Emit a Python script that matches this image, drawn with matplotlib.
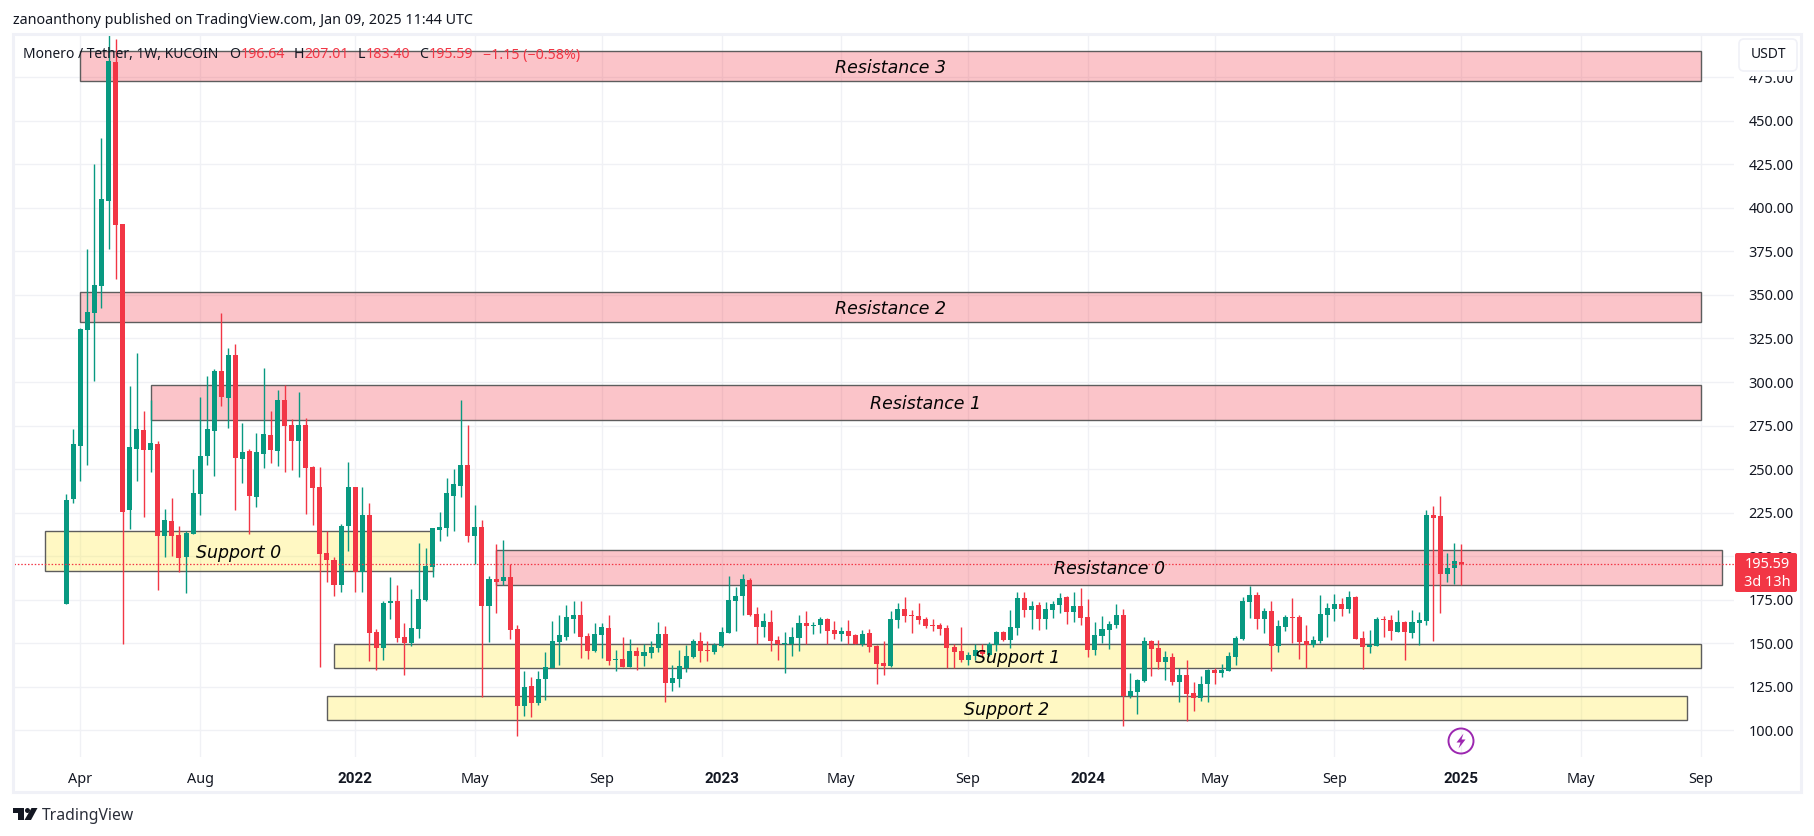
import matplotlib
matplotlib.use("Agg")
import matplotlib.pyplot as plt
import matplotlib.dates as mdates
from matplotlib.patches import Rectangle, FancyBboxPatch, Circle, Polygon, Ellipse
import pandas as pd

W, H = 1814, 836
FONT = "Noto Sans"
INK = "#131722"
UP = "#089981"
DOWN = "#F23645"
GRID = "#F0F1F5"
BORDER = "#F0F1F7"

first_week = "2021-03-22"

opens = [
    172.7, 232.6, 263, 329.9, 339.9, 355.2, 404, 483.8, 390.8, 226.3,
    261.3, 272.2, 260.8, 264.2, 211.4, 220, 212, 199.3, 212.5, 235.5,
    257.3, 271.7, 306.1, 290.6, 315.3, 255.6, 260.2, 233.8, 258.5, 269.4,
    260.2, 289.5, 275.1, 265.9, 275.1, 251, 239.5, 201.6, 197.6, 183.2,
    217.1, 239.5, 190.8, 223.9, 156.7, 147.5, 173.4, 174, 153.8, 150.4,
    158.4, 175.1, 194, 215.3, 216.4, 234.8, 240.5, 252.6, 211.3, 217,
    171.6, 187.1, 186, 188.3, 158.4, 114.2, 125.7, 115.9, 129.2, 136,
    151, 153.8, 164.2, 166.5, 154.4, 145.8, 155, 159, 140.6, 141.2,
    136.6, 145.8, 142.9, 144.2, 147.1, 155.1, 127, 129.3, 135.6, 141.9,
    151.1, 145.9, 144.8, 148.2, 155.7, 174, 176.9, 186.1, 166.6, 159.1,
    162, 151.6, 149.6, 149.4, 152.8, 161.4, 159.7, 160.3, 163.7, 157.4,
    155.1, 156.8, 154.5, 149.7, 155.7, 148.2, 138.4, 136.7, 163.1, 169.4,
    166, 165.4, 163.7, 160.3, 160.3, 158.5, 147.6, 145.3, 140.2, 142.5,
    145.9, 143, 148.8, 156.2, 151.7, 158.5, 175.8, 168.9, 171.7, 163.7,
    168.9, 171.7, 176.3, 167.7, 171.2, 164.9, 145.9, 153.9, 157.4, 160.3,
    166, 119.5, 121.8, 128.1, 151.1, 147, 139, 141.9, 127.5, 131.6,
    121.2, 118.3, 126.4, 134.4, 132.7, 134.1, 142.1, 152.5, 173.7, 177.7,
    163.9, 168.5, 148.4, 159.3, 165, 165, 151.3, 149, 151.3, 166.2,
    169.7, 172.6, 169.7, 176.6, 153, 147.9, 148.4, 163.9, 163.4, 156.5,
    162.2, 155.9, 161.6, 162.8, 223.7, 223.1, 189.8, 193.2, 196.64,
]
highs = [
    235.5, 272.8, 331, 376.4, 425.2, 440.2, 499.7, 497, 390.8, 297.5,
    316.5, 283.2, 289.7, 266, 226.9, 233.2, 217.1, 214.3, 249.9, 291.2,
    303.3, 307.3, 339.7, 319.6, 321.9, 276.3, 261.3, 270.5, 307.8, 283.2,
    295.2, 298.5, 278.6, 294.1, 279.1, 251.6, 251, 214.3, 199.3, 218.3,
    253.9, 239.5, 240, 230.8, 158.4, 174.5, 188.3, 183.7, 161.9, 181.4,
    207.8, 204.9, 215.9, 225.6, 245.1, 250.3, 289.4, 275.6, 229.6, 221,
    188.9, 207.2, 209.5, 195.6, 160.7, 134.3, 130.9, 134.3, 145.2, 162.5,
    166.5, 172.2, 174, 174.5, 156.1, 161.9, 161.9, 166.5, 146.4, 153.8,
    152.7, 148.1, 149.8, 151.1, 162, 159.7, 137.3, 145.9, 148.8, 152.2,
    156.2, 151.1, 150, 159.1, 188.4, 182.1, 189.5, 187.2, 170.6, 167.2,
    168.9, 154, 156.2, 159.1, 166, 168.3, 162, 164.9, 164.3, 162.6,
    159.1, 163.1, 155.1, 157.4, 158, 148.8, 151.1, 168.3, 172.9, 176.3,
    168.9, 172.9, 164.9, 163.7, 161.4, 160.3, 149.4, 159.1, 144.8, 149.4,
    149.4, 150.7, 156.8, 156.8, 168.9, 179.2, 179.2, 174, 173.5, 173.5,
    174, 178.6, 176.9, 179.2, 181.5, 175.2, 162, 165.4, 162.6, 172.3,
    169.4, 132.7, 129.3, 153.4, 151.6, 151.6, 145.3, 144.2, 135.6, 140.6,
    127.5, 131, 135, 135.6, 137.9, 145, 154.2, 176.6, 182.9, 179.4,
    170.3, 174.3, 163.4, 166.2, 176, 166.2, 160.5, 154.2, 177.7, 173.1,
    178.3, 176, 180, 177.2, 157, 157.6, 165, 165.7, 166.2, 169.1,
    162.8, 169.1, 168, 226.5, 228.8, 234.6, 201.8, 207.6, 207.01,
]
lows = [
    172.7, 230.3, 243, 252.1, 300.6, 342.6, 376.4, 359.2, 149.7, 215.4,
    243, 222.3, 248.1, 180.4, 199.3, 199.9, 190.7, 178.6, 212.5, 223.4,
    252.1, 245.8, 286, 273.4, 226.3, 241.8, 212.5, 228, 250.4, 253.3,
    251.6, 248.1, 249.3, 245.3, 224, 217.7, 136.5, 185, 176.9, 179.2,
    202.8, 179.3, 179.3, 140, 134.9, 140.6, 164.2, 151, 132, 148.7,
    153.3, 174, 188.3, 209, 211.3, 214.7, 233.7, 208.4, 195.4, 119,
    151, 167.6, 183.7, 152.7, 97, 108.5, 107.9, 114.8, 117.7, 136,
    137.8, 152.1, 156.1, 141.8, 141.2, 144.7, 141.8, 137.8, 134.3, 136.6,
    136.6, 134.9, 137.2, 141.3, 144.8, 116, 122.4, 124.7, 133.3, 141.3,
    139, 139.6, 143.6, 147.6, 155.7, 156.8, 166, 165.4, 149.7, 153.4,
    145.3, 140.2, 132.7, 142.5, 145.3, 149.7, 155.1, 155.7, 149.7, 152.2,
    151.1, 149.7, 149.7, 148.2, 144.8, 126.4, 131.6, 136.1, 158.5, 162,
    155.7, 160.8, 158.5, 156.8, 154.5, 136, 136, 139, 137.3, 140.2,
    142, 142.5, 145.3, 151.1, 147, 154.5, 164.9, 158, 157.4, 158,
    164.3, 167.2, 160.8, 162, 160.3, 141.9, 143, 149.9, 146.5, 158.5,
    102.3, 118.3, 109.2, 127.5, 131, 135, 128.7, 125.8, 116, 105.1,
    110.9, 116.6, 116, 126.4, 130.4, 133.9, 137.5, 151.9, 164.5, 158.2,
    155.9, 134.1, 145, 157, 150, 141, 136, 147.9, 150.2, 153.6,
    162.8, 165.7, 167.4, 152.5, 135, 144.4, 148.4, 153.6, 151.9, 156.5,
    140.4, 153, 149, 160.5, 151.3, 167.4, 185.2, 184, 183.40,
]
closes = [
    232, 264.2, 330.5, 340.3, 355.8, 405.1, 484.4, 390.2, 225.4, 262.5,
    272.8, 260.8, 264.8, 211.4, 220.6, 211.4, 198.8, 213.1, 236.1, 257.3,
    272.8, 306.1, 291.2, 315.3, 256.2, 259.6, 234.3, 259.6, 270, 260.8,
    289.5, 274.5, 265.9, 275.1, 250.4, 238.9, 201, 197.6, 183.2, 217.1,
    239.5, 190.8, 223.9, 156.1, 147.5, 173.4, 174, 153.3, 150.4, 159,
    175.7, 194.6, 215.9, 217, 236, 241.7, 252.6, 211.3, 217, 171.6,
    187.1, 185.4, 188.3, 157.9, 114.2, 125.1, 115.9, 129.7, 136.6, 151.5,
    155, 164.8, 166.5, 153.8, 145.8, 155.6, 159.6, 140, 141, 136.6,
    145.8, 142.9, 144.7, 147.6, 155.1, 127, 129.8, 136.7, 142.5, 151.1,
    145.3, 145.3, 148.8, 156.2, 174.6, 176.9, 186.7, 166, 159.1, 162.6,
    151.1, 149.4, 149.9, 153.4, 161.4, 159.7, 160.3, 163.7, 156.8, 155.1,
    156.8, 153.9, 149.7, 155.1, 147.6, 137.9, 136.7, 163.7, 169.4, 165.4,
    165.4, 163.1, 159.7, 159.7, 158, 147, 144.8, 140.2, 143, 145.9,
    143.6, 149.4, 156.2, 151.7, 159.1, 175.8, 168.9, 171.2, 163.7, 169.4,
    172.3, 175.8, 167.7, 171.2, 164.3, 145.9, 154.5, 158, 160.8, 166,
    119.9, 122.4, 128.7, 151.1, 146.5, 139, 141.9, 127.5, 131.6, 120.6,
    118.3, 126.4, 134.4, 132.7, 134.4, 142.7, 153, 174.3, 177.7, 163.9,
    168.5, 148.4, 159.9, 165, 164.5, 150.7, 149, 151.9, 166.8, 170.3,
    172.6, 169.7, 176.6, 152.5, 147.9, 149, 163.9, 163.4, 157, 162.2,
    156.5, 162.2, 163.4, 223.7, 221.9, 189.8, 193.2, 197.2, 195.59,
]

price_ticks = [100, 125, 150, 175, 200, 225, 250, 275, 300, 325, 350, 375, 400, 425, 450, 475]
time_tick_dates = ["2021-04-05", "2021-08-02", "2022-01-03", "2022-05-02", "2022-09-05", "2023-01-02",
                   "2023-05-01", "2023-09-04", "2024-01-01", "2024-05-06", "2024-09-02", "2025-01-06",
                   "2025-05-05", "2025-09-01"]
time_tick_labels = ["Apr", "Aug", "2022", "May", "Sep", "2023", "May", "Sep", "2024", "May", "Sep", "2025", "May", "Sep"]

zone_names = ["Resistance 3", "Resistance 2", "Resistance 1", "Resistance 0", "Support 0", "Support 1", "Support 2"]
zone_starts = ["2021-04-05", "2021-04-05", "2021-06-14", "2022-05-23", "2021-03-01", "2021-12-13", "2021-12-06"]
zone_ends = ["2025-09-01", "2025-09-01", "2025-09-01", "2025-09-22", "2022-03-21", "2025-09-01", "2025-08-18"]
zone_tops = [490.3, 351.5, 298.5, 203.6, 214.4, 149.6, 119.8]
zone_bottoms = [472.7, 334.3, 278.4, 183.5, 191.7, 135.8, 106.0]

last_price = 195.59

weeks = mdates.date2num(pd.date_range(first_week, periods=len(closes), freq="7D"))
d0 = weeks[0]

fig = plt.figure(figsize=(W / 100, H / 100), dpi=100, facecolor="white")
plt.rcParams["font.family"] = [FONT, "DejaVu Sans"]

# main pane: pixel box 13.5..1734 x 34..757
L, R, T, B = 13.5, 1734.0, 34.0, 757.0
ax = fig.add_axes([L / W, 1 - B / H, (R - L) / W, (B - T) / H], facecolor="white")
ax.set_xlim(d0 - 52.4, d0 + 1656.9)
ax.set_ylim(84.7, 499.8)
for s in ax.spines.values():
    s.set_visible(False)
ax.set_axisbelow(True)
ax.grid(True, color=GRID, lw=1.0)
ax.set_yticks(price_ticks)
ax.set_yticklabels([f"{p:.2f}" for p in price_ticks], fontsize=10.4, color=INK, family=FONT)
ax.tick_params(axis="y", left=False, right=False, labelleft=False, labelright=True, pad=6.8)
ax.set_xticks(mdates.date2num(pd.to_datetime(time_tick_dates)))
ax.set_xticklabels(time_tick_labels, fontsize=10.4, color=INK, family=FONT)
ax.tick_params(axis="x", bottom=False, top=False, pad=7.2)
for lab, txt in zip(ax.get_xticklabels(), time_tick_labels):
    if txt.isdigit():
        lab.set_family("Roboto")
        lab.set_fontweight("bold")
        lab.set_fontsize(11)

# zones
for name, s, e, t, b in zip(zone_names, zone_starts, zone_ends, zone_tops, zone_bottoms):
    x0 = mdates.date2num(pd.Timestamp(s))
    x1 = mdates.date2num(pd.Timestamp(e))
    fill = (242 / 255, 54 / 255, 69 / 255, 0.29) if name.startswith("Res") else (255 / 255, 235 / 255, 59 / 255, 0.3)
    ax.add_patch(Rectangle((x0, b), x1 - x0, t - b, facecolor=fill, edgecolor="#5D5D5D", lw=1.0, zorder=2))
    ax.annotate(name, xy=((x0 + x1) / 2, (t + b) / 2), xytext=(0, -1.2), textcoords="offset points",
                ha="center", va="center", fontsize=12.5, style="italic", family="DejaVu Sans",
                color="#050505", zorder=7)

# candles
colors = [UP if c >= o else DOWN for o, c in zip(opens, closes)]
ax.vlines(weeks, lows, highs, colors=colors, lw=1.0, zorder=3)
ax.bar(weeks, [abs(c - o) for o, c in zip(opens, closes)], bottom=[min(o, c) for o, c in zip(opens, closes)],
       width=5.0, color=colors, lw=0, zorder=4)

ax.axhline(last_price, color=DOWN, lw=0.9, ls=(0, (1.2, 1.5)), zorder=5)

# overlay in figure pixels
ov = fig.add_axes([0, 0, 1, 1], facecolor="none", zorder=10)
ov.set_xlim(0, W)
ov.set_ylim(H, 0)
ov.axis("off")

ov.add_patch(Rectangle((12.8, 34), 1788, 758, fill=False, edgecolor=BORDER, lw=2.2))

ov.text(13, 21, "zanoanthony published on TradingView.com, Jan 09, 2025 11:44 UTC", fontsize=10.3, color=INK, va="center", family=FONT)

leg_y = 55
ov.text(23, leg_y, "Monero / Tether, 1W, KUCOIN", fontsize=9.95, color=INK, va="center", family=FONT)
for x, s, c in [(229.5, "O", INK), (240.3, "196.64", DOWN), (293.5, "H", INK), (304, "207.01", DOWN),
                (357.8, "L", INK), (366, "183.40", DOWN), (419, "C", INK), (428.6, "195.59", DOWN),
                (483, "\u22121.15 (\u22120.58%)", DOWN)]:
    ov.text(x, leg_y, s, fontsize=10.2, color=c, va="center", family=[FONT, "DejaVu Sans"])

# USDT button, masking the top of the 475.00 label
ov.add_patch(Rectangle((1739, 60), 58, 16, facecolor="white", edgecolor="none"))
ov.add_patch(FancyBboxPatch((1741, 41), 54, 28, boxstyle="round,pad=2,rounding_size=5", facecolor="white",
                            edgecolor=BORDER, lw=1.2))
ov.text(1768, 55, "USDT", fontsize=10, color=INK, ha="center", va="center", family=FONT)

# last price label
ov.add_patch(FancyBboxPatch((1737, 555), 58, 35, boxstyle="round,pad=2,rounding_size=2", facecolor=DOWN, edgecolor="none"))
ov.text(1767, 564, "195.59", fontsize=10.4, color="white", ha="center", va="center", family=FONT)
ov.text(1767, 582, "3d 13h", fontsize=10.4, color="white", ha="center", va="center", family=FONT)

# event icon
ov.add_patch(Ellipse((1461, 741), 25, 25, fill=False, edgecolor="#9C27B0", lw=1.4))
ov.add_patch(Polygon([(1463.5, 733.5), (1456.5, 742.5), (1460.5, 742.5), (1458.5, 748.5), (1465.5, 739.5), (1461.5, 739.5)],
                     closed=True, facecolor="#9C27B0", edgecolor="none"))

# TradingView footer
ov.add_patch(Rectangle((13, 808), 11, 5, facecolor=INK, edgecolor="none"))
ov.add_patch(Rectangle((18, 808), 6, 12, facecolor=INK, edgecolor="none"))
ov.add_patch(Circle((27.5, 810.5), 2.5, facecolor=INK, edgecolor="none"))
ov.add_patch(Polygon([(31.5, 808), (37.5, 808), (31, 820), (24.5, 820)], closed=True, facecolor=INK, edgecolor="none"))
ov.text(42, 816, "TradingView", fontsize=11.3, color="#2A2E39", va="center", family=FONT)

fig.savefig("out.png", dpi=100, facecolor="white")
